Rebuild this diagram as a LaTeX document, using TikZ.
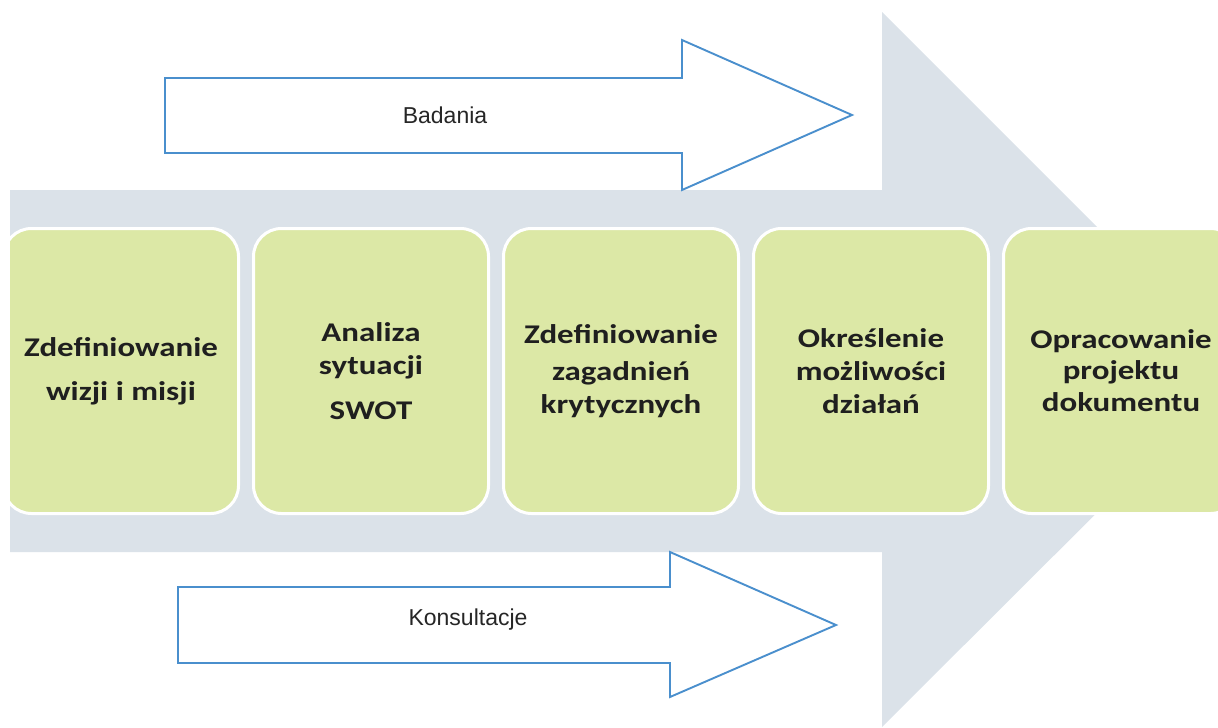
\documentclass[tikz,border=0pt]{standalone}
\usepackage{fontspec}
\setmainfont{Liberation Sans}
\newfontfamily\stagefont[FakeStretch=1.22]{Carlito}
\usetikzlibrary{positioning}
\definecolor{bandc}{HTML}{DBE2E9}
\definecolor{stagec}{HTML}{DCE8A6}
\definecolor{flowc}{HTML}{4A8FCD}

\begin{document}
\begin{tikzpicture}[x=1pt, y=-1pt,
  stage/.style={rounded corners=28pt, fill=stagec, draw=white, line width=3pt,
                minimum width=235pt, minimum height=285pt, align=center,
                text=black!88, font=\stagefont\bfseries\fontsize{27}{33}\selectfont},
  flow/.style={draw=flowc, line width=1.9pt, fill=white},
  flowtxt/.style={text=black!85, font=\fontsize{23}{27}\selectfont}]
  \useasboundingbox (0,0) rectangle (1218,728);
  \begin{scope}
    \clip (10,0) rectangle (1218,728);
    % wide background arrow
    \fill[bandc] (0,190) -- (882,190) -- (882,12) -- (1240,370)
      -- (882,727) -- (882,552) -- (0,552) -- cycle;
    % stages
    \node[stage] (s1) at (121,371) {Zdefiniowanie\\[11pt]wizji i misji};
    \node[stage, right=12pt of s1] (s2) {Analiza\\sytuacji\\[12pt]SWOT};
    \node[stage, right=12pt of s2] (s3) {Zdefiniowanie\\[4pt]zagadnień\\krytycznych};
    \node[stage, right=12pt of s3] (s4) {Określenie\\możliwości\\działań};
    \node[stage, right=12pt of s4] (s5) {Opracowanie\\[-2pt]projektu\\[-1pt]dokumentu};
  \end{scope}
  % research
  \draw[flow] (165,78) -- (682,78) -- (682,40) -- (852,115)
    -- (682,190) -- (682,153) -- (165,153) -- cycle;
  \node[flowtxt] (badania) at (445,115) {Badania};
  % consultations
  \draw[flow] (178,587) -- (670,587) -- (670,552) -- (836,625)
    -- (670,697) -- (670,663) -- (178,663) -- cycle;
  \node[flowtxt] (konsultacje) at (468,620) {Konsultacje};
\end{tikzpicture}
\end{document}
